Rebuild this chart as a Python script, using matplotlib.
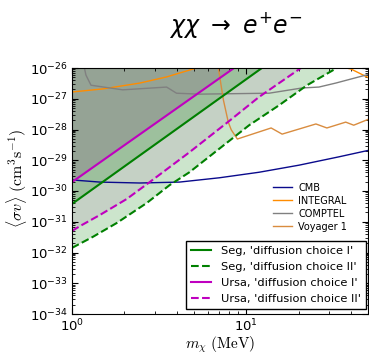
import numpy as np
import matplotlib
matplotlib.use("Agg")
import matplotlib.pyplot as plt
from matplotlib.ticker import LogLocator, NullFormatter

# log10 values
seg1_logm = [0.0, 1.09]
seg1_logsv = [-30.42, -26.0]
seg2_logm = [0.0, 0.12, 0.257, 0.429, 0.56, 0.674, 1.017, 1.189, 1.349, 1.52]
seg2_logsv = [-31.85, -31.49, -31.04, -30.39, -29.81, -29.39, -27.86, -27.21, -26.56, -26.0]
ursa1_logm = [0.0, 0.93]
ursa1_logsv = [-29.71, -26.0]
ursa2_logm = [0.0, 0.046, 0.16, 0.314, 0.446, 0.674, 0.903, 1.074, 1.314]
ursa2_logsv = [-31.30, -31.14, -30.78, -30.26, -29.71, -28.74, -27.72, -26.94, -26.0]

cmb_logm = [0.0, 0.16, 0.389, 0.617, 0.846, 1.074, 1.303, 1.531, 1.70]
cmb_logsv = [-29.64, -29.71, -29.74, -29.71, -29.57, -29.39, -29.16, -28.89, -28.68]
integral_logm = [0.0, 0.177, 0.389, 0.543, 0.714, 1.0, 1.3, 1.6, 1.70]
integral_logsv = [-26.78, -26.68, -26.49, -26.29, -26.0, -25.75, -25.7, -26.03, -26.31]
comptel_logm = [0.069, 0.08, 0.109, 0.291, 0.543, 0.6, 0.731, 1.131, 1.32, 1.417, 1.514, 1.70]
comptel_logsv = [-25.94, -26.23, -26.56, -26.71, -26.62, -26.82, -26.85, -26.82, -26.65, -26.62, -26.49, -26.21]
voyager_logm = [0.834, 0.84, 0.869, 0.897, 0.914, 0.949, 1.143, 1.206, 1.40, 1.463, 1.571, 1.617, 1.70]
voyager_logsv = [-25.75, -26.0, -27.04, -27.76, -28.01, -28.31, -27.95, -28.15, -27.82, -27.95, -27.76, -27.86, -27.67]


def pw(a):
    return 10.0 ** np.asarray(a)


fig = plt.figure(figsize=(3.69, 3.56), dpi=100)
ax = fig.add_axes([72 / 369, 42 / 356, 296 / 369, 246 / 356])

top = 1e-20
ax.fill_between(pw(seg2_logm), pw(seg2_logsv), top, color="g", alpha=0.2, lw=0)
ax.fill_between(pw(ursa2_logm), pw(ursa2_logsv), top, color="#bfbfbf", alpha=0.5, lw=0)
ax.fill_between(pw(seg1_logm), pw(seg1_logsv), top, color="g", alpha=0.2, lw=0)
ax.fill_between(pw(ursa1_logm), pw(ursa1_logsv), top, color="#909090", alpha=0.6, lw=0)

l_cmb, = ax.plot(pw(cmb_logm), pw(cmb_logsv), color="#0a0a8c", lw=1, label="CMB")
l_int, = ax.plot(pw(integral_logm), pw(integral_logsv), color="darkorange", lw=1, label="INTEGRAL")
l_com, = ax.plot(pw(comptel_logm), pw(comptel_logsv), color="grey", lw=1, label="COMPTEL")
l_voy, = ax.plot(pw(voyager_logm), pw(voyager_logsv), color="#d98c3f", lw=1, label="Voyager 1")

s1, = ax.plot(pw(seg1_logm), pw(seg1_logsv), color="g", lw=1.5, label="Seg, 'diffusion choice I'")
s2, = ax.plot(pw(seg2_logm), pw(seg2_logsv), color="g", lw=1.5, ls="--", label="Seg, 'diffusion choice II'")
u1, = ax.plot(pw(ursa1_logm), pw(ursa1_logsv), color="m", lw=1.5, label="Ursa, 'diffusion choice I'")
u2, = ax.plot(pw(ursa2_logm), pw(ursa2_logsv), color="m", lw=1.5, ls="--", label="Ursa, 'diffusion choice II'")

ax.set_xscale("log")
ax.set_yscale("log")
ax.set_xlim(1, 50)
ax.set_ylim(1e-34, 1e-26)
ax.yaxis.set_major_locator(LogLocator(base=10, numticks=20))
ax.yaxis.set_minor_locator(LogLocator(base=10, subs=np.arange(2, 10), numticks=20))
ax.yaxis.set_minor_formatter(NullFormatter())
ax.tick_params(which="both", direction="in", top=True, right=True, labelsize=9.5, pad=3)
ax.tick_params(which="major", length=4)
ax.tick_params(which="minor", length=2)

ax.set_xlabel(r"$m_\chi\ \mathrm{(MeV)}$", fontsize=11, math_fontfamily="cm", labelpad=0)
ax.set_ylabel(r"$\langle\sigma v\rangle\ (\mathrm{cm}^3\mathrm{s}^{-1})$", fontsize=11.5,
              math_fontfamily="cm")
ax.yaxis.set_label_coords(-0.145, 0.553)
fig.text(236 / 369, 1 - 25 / 356, r"$\chi\chi\ \rightarrow\ e^{+}e^{-}$", fontsize=17,
         ha="center", va="center")

leg1 = ax.legend(handles=[l_cmb, l_int, l_com, l_voy], loc="upper left", frameon=False,
                 fontsize=7, handlelength=2.0, labelspacing=0.3, handletextpad=0.6,
                 bbox_to_anchor=(264 / 369, 1 - 174 / 356), bbox_transform=fig.transFigure)
ax.add_artist(leg1)
leg2 = ax.legend(handles=[s1, s2, u1, u2], loc="upper left", fontsize=8.2, fancybox=False,
                 edgecolor="k", framealpha=1, handlelength=1.8, labelspacing=0.55,
                 borderpad=0.4, handletextpad=0.9, borderaxespad=0,
                 bbox_to_anchor=(186 / 369, 1 - 241 / 356), bbox_transform=fig.transFigure)
leg2.get_frame().set_linewidth(1)

fig.savefig("out.png", dpi=100)
